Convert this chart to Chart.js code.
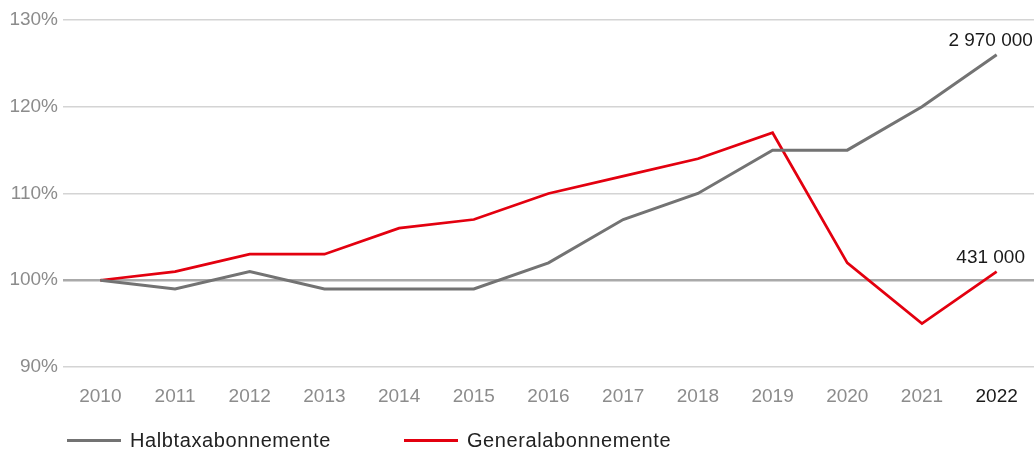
<html lang="de">
    <head>
        <meta charset="UTF-8">
        <title>Halbtax und GA</title>
        <script src="https://cdn.jsdelivr.net/npm/chart.js"></script>
        <style>
            body {
                margin: 0;
                padding: 0;
                background: #fff;
                font-family: 'Liberation Sans', Arial, sans-serif;
            }

            .wrap {
                position: relative;
                width: 1034px;
                height: 450px;
            }

            #legend {
                position: absolute;
                left: 67px;
                top: 427px;
                display: flex;
                font-size: 20px;
                letter-spacing: 0.6px;
                color: #222;
                line-height: 26px;
            }

            #legend .item {
                display: flex;
                align-items: center;
                margin-right: 73px;
            }

            #legend .line {
                width: 54px;
                height: 3px;
                margin-right: 9px;
            }
        </style>
    </head>

    <body>
        <div class="wrap">
            <canvas id="chart" width="1034" height="450"></canvas>
            <div id="legend"></div>
        </div>

        <script>
            const years = ['2010', '2011', '2012', '2013', '2014', '2015', '2016', '2017', '2018', '2019', '2020', '2021', '2022'];
            const halbtax = [100, 99, 101, 99, 99, 99, 102, 107, 110, 115, 115, 120, 126];
            const generalabo = [100, 101, 103, 103, 106, 107, 110, 112, 114, 117, 102, 95, 101];
            const endLabels = ['2 970 000', '431 000'];
            const yTicks = [90, 100, 110, 120, 130];

            Chart.defaults.font.family = "'Liberation Sans', Arial, sans-serif";

            // writes the absolute numbers above the last point of each line
            const endLabelPlugin = {
                id: 'endLabels',
                afterDatasetsDraw(chart) {
                    const ctx = chart.ctx;
                    ctx.save();
                    ctx.font = "19px 'Liberation Sans', Arial, sans-serif";
                    ctx.fillStyle = '#1a1a1a';
                    ctx.textAlign = 'center';
                    ctx.textBaseline = 'alphabetic';
                    chart.data.datasets.forEach((ds, i) => {
                        const meta = chart.getDatasetMeta(i);
                        const pt = meta.data[meta.data.length - 1];
                        ctx.fillText(endLabels[i], pt.x - 6, pt.y - 9);
                    });
                    ctx.restore();
                }
            };

            const chart = new Chart(document.getElementById('chart').getContext('2d'), {
                type: 'line',
                data: {
                    labels: years,
                    datasets: [{
                        label: 'Halbtaxabonnemente',
                        data: halbtax,
                        borderColor: '#737373',
                        backgroundColor: '#737373',
                        borderWidth: 3,
                        pointRadius: 0,
                        tension: 0
                    }, {
                        label: 'Generalabonnemente',
                        data: generalabo,
                        borderColor: '#e3000f',
                        backgroundColor: '#e3000f',
                        borderWidth: 2.75,
                        pointRadius: 0,
                        tension: 0
                    }]
                },
                options: {
                    responsive: false,
                    animation: false,
                    layout: {
                        padding: { top: 20, bottom: 43, left: 0, right: 0 }
                    },
                    plugins: {
                        legend: { display: false },
                        tooltip: { enabled: false }
                    },
                    scales: {
                        x: {
                            offset: true,
                            grid: { display: false },
                            border: { display: false },
                            ticks: {
                                padding: 10,
                                font: { size: 19 },
                                color: (c) => c.index === years.length - 1 ? '#1a1a1a' : '#8c8c8c'
                            },
                            afterFit(scale) {
                                scale.height = 40;
                            }
                        },
                        y: {
                            min: 90,
                            max: 130,
                            afterBuildTicks(scale) {
                                scale.ticks = yTicks.map(v => ({ value: v }));
                            },
                            border: { display: false },
                            grid: {
                                drawTicks: false,
                                color: (c) => c.tick && c.tick.value === 100 ? '#aaaaaa' : '#d4d4d4',
                                lineWidth: (c) => c.tick && c.tick.value === 100 ? 2.5 : 1.5
                            },
                            ticks: {
                                padding: 5,
                                font: { size: 19 },
                                color: '#8c8c8c',
                                callback: (v) => v + '%'
                            },
                            afterFit(scale) {
                                scale.width = 63;
                            }
                        }
                    }
                },
                plugins: [endLabelPlugin]
            });

            // legend built from the chart's datasets
            const legend = document.getElementById('legend');
            chart.data.datasets.forEach(ds => {
                const item = document.createElement('div');
                item.className = 'item';
                const line = document.createElement('span');
                line.className = 'line';
                line.style.background = ds.borderColor;
                const txt = document.createElement('span');
                txt.textContent = ds.label;
                item.appendChild(line);
                item.appendChild(txt);
                legend.appendChild(item);
            });
        </script>
    </body>
</html>
